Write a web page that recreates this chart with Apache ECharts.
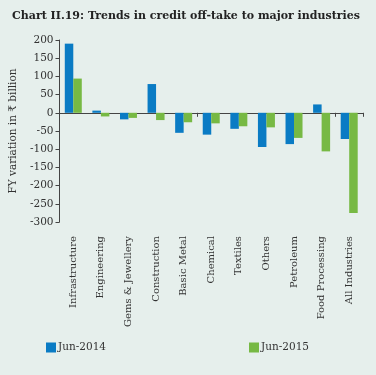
<!DOCTYPE html>
<html>
<head>
<meta charset="utf-8">
<script src="https://cdn.jsdelivr.net/npm/echarts@6/dist/echarts.min.js"></script>
<style>
  html, body { margin: 0; padding: 0; background: #e6efec; }
  #chart { width: 376px; height: 375px; }
</style>
</head>
<body>
<div id="chart"></div>
<script>
const categories = ["Infrastructure", "Engineering", "Gems & Jewellery", "Construction", "Basic Metal",
    "Chemical", "Textiles", "Others", "Petroleum", "Food Processing", "All Industries"];
const jun2014 = [190, 6, -18, 79, -55, -60, -44, -94, -86, 23, -72];
const jun2015 = [94, -10, -14, -20, -26, -29, -37, -40, -69, -106, -275];
const seriesNames = ["Jun-2014", "Jun-2015"];

const FONT = "DejaVu Serif";
const TEXT = "#333";

const chart = echarts.init(document.getElementById("chart"));

chart.setOption({
    backgroundColor: "#e6efec",
    animation: false,

    title: {
        text: "Chart II.19: Trends in credit off-take to major industries",
        left: 12,
        top: 11,
        padding: 0,
        textStyle: {
            fontFamily: FONT,
            fontSize: 11,
            fontWeight: "bold",
            color: "#222"
        }
    },

    legend: {
        data: seriesNames,
        bottom: 22,
        left: 46,
        padding: 0,
        itemGap: 143,
        itemWidth: 10,
        itemHeight: 10,
        icon: "rect",
        textStyle: {
            fontFamily: FONT,
            fontSize: 10.5,
            color: TEXT,
            padding: [0, 0, 0, -3]
        }
    },

    grid: {
        left: 59,
        right: 13,
        top: 40,
        bottom: 153
    },

    xAxis: [{
        type: "category",
        data: categories,
        axisLine: { onZero: true, lineStyle: { color: "#444", width: 1 } },
        axisTick: { show: true, inside: false, length: 4, lineStyle: { color: "#444" } },
        axisLabel: { show: false }
    }, {
        type: "category",
        data: categories,
        position: "bottom",
        axisLine: { show: false, onZero: false },
        axisTick: { show: false },
        axisLabel: {
            rotate: 90,
            margin: 14,
            interval: 0,
            fontFamily: FONT,
            fontSize: 10,
            color: TEXT
        }
    }],

    yAxis: {
        type: "value",
        min: -300,
        max: 200,
        interval: 50,
        name: "FY variation in ₹ billion",
        nameLocation: "middle",
        nameGap: 40,
        nameTextStyle: {
            fontFamily: FONT,
            fontSize: 10.5,
            color: TEXT
        },
        axisLine: { show: true, lineStyle: { color: "#444" } },
        axisTick: { show: true, length: 4, lineStyle: { color: "#444" } },
        axisLabel: {
            fontFamily: FONT,
            fontSize: 10.5,
            color: TEXT,
            margin: 6
        },
        splitLine: { show: false }
    },

    series: [{
        name: seriesNames[0],
        type: "bar",
        data: jun2014,
        barWidth: 8.5,
        barGap: "0%",
        itemStyle: { color: "#0a7bc4" }
    }, {
        name: seriesNames[1],
        type: "bar",
        data: jun2015,
        barWidth: 8.5,
        barGap: "0%",
        itemStyle: { color: "#77b944" }
    }]
});
</script>
</body>
</html>
